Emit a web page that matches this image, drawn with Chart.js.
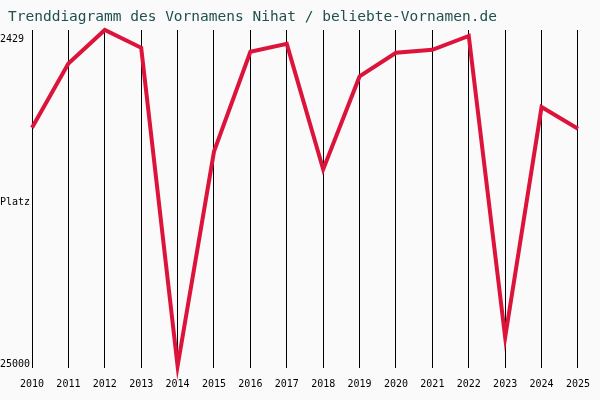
<!DOCTYPE html><html><head><script src="https://cdn.jsdelivr.net/npm/chart.js@4"></script>
<style>body{margin:0;background:#fafafa}#w{width:600px;height:400px}</style></head><body><div id="w"><canvas id="c"></canvas></div>
<script>
const years=['2010','2011','2012','2013','2014','2015','2016','2017','2018','2019','2020','2021','2022','2023','2024','2025'];
const ranks=[8554,4081,1741,2979,25138,10205,3255,2704,11444,4975,3324,3117,2154,23142,7108,8622];
const yTicks=[2429,25000];
const txt={id:'t',afterDraw(c){const x=c.ctx;x.save();x.font='10px "DejaVu Sans Mono"';x.fillStyle='#000';x.textBaseline='middle';x.fillText('Platz',0,(c.scales.y.getPixelForValue(yTicks[0])+c.scales.y.getPixelForValue(yTicks[1]))/2);
x.font='14.5px "DejaVu Sans Mono"';x.fillStyle='#1f4f4f';x.fillText('Trenddiagramm des Vornamens Nihat / beliebte-Vornamen.de',8,17);x.restore();}};
new Chart(document.getElementById('c'),{type:'line',data:{labels:years,datasets:[{data:ranks,borderColor:'#dc143c',borderWidth:4,pointRadius:0,tension:0,clip:false}]},
options:{responsive:true,maintainAspectRatio:false,animation:false,
layout:{padding:{top:30,right:3,bottom:0,left:0}},
plugins:{legend:{display:false},tooltip:{enabled:false},title:{display:false}},
scales:{x:{offset:false,grid:{color:'#000',drawTicks:false},border:{display:false},ticks:{color:'#000',font:{family:'DejaVu Sans Mono',size:10},padding:10,maxRotation:0,autoSkip:false}},
y:{reverse:true,min:1741,max:25275,afterBuildTicks(a){a.ticks=yTicks.map(v=>({value:v}));},afterFit(a){a.width=32;},
grid:{display:false},border:{display:false},ticks:{color:'#000',font:{family:'DejaVu Sans Mono',size:10},crossAlign:'far',padding:0,callback:v=>String(v)}}}},
plugins:[txt]});
</script></body></html>
